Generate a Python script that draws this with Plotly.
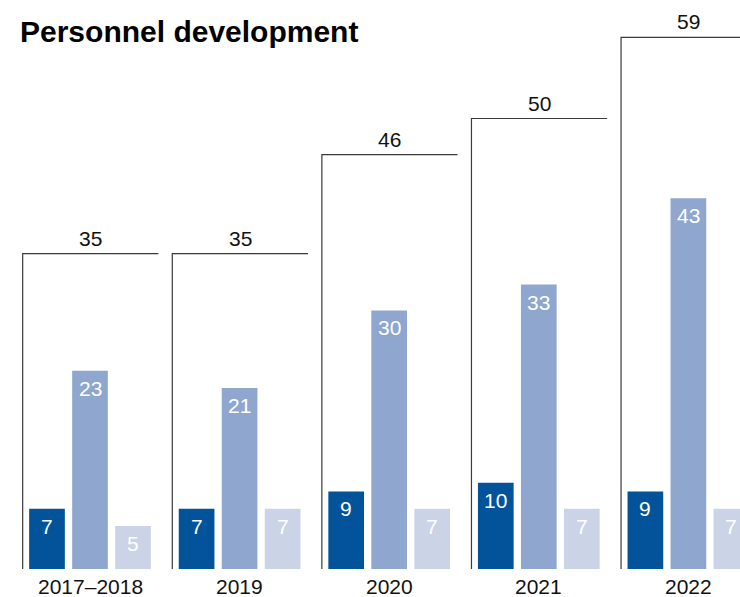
import plotly.graph_objects as go

# Personnel development by period
periods = ["2017–2018", "2019", "2020", "2021", "2022"]
series_a = [7, 7, 9, 10, 9]        # dark blue
series_b = [23, 21, 30, 33, 43]    # medium blue
series_c = [5, 7, 7, 7, 7]         # light blue
totals = [35, 35, 46, 50, 59]

colors = ["#03539a", "#8fa7cf", "#cbd3e7"]
FONT = "Liberation Sans"

pos = list(range(len(periods)))

fig = go.Figure()

for vals, col in zip([series_a, series_b, series_c], colors):
    fig.add_trace(go.Bar(
        x=pos, y=vals,
        marker=dict(color=col, line=dict(width=0)),
        hoverinfo="skip",
        showlegend=False,
    ))

# Value labels placed just inside the top of each bar
offsets = [-0.2875, 0.0, 0.2875]
for vals, off in zip([series_a, series_b, series_c], offsets):
    for p, v in zip(pos, vals):
        fig.add_annotation(
            x=p + off, y=v, xref="x", yref="y",
            text=str(v), showarrow=False,
            xanchor="center", yanchor="top", yshift=-4,
            font=dict(family=FONT, size=21, color="white"),
        )

# Bracket around each period showing the total
for p, t in zip(pos, totals):
    fig.add_trace(go.Scatter(
        x=[p - 0.45, p - 0.45, p + 0.457],
        y=[0, t, t],
        mode="lines",
        line=dict(color="#3a3a3a", width=1.2),
        yaxis="y2",
        hoverinfo="skip",
        showlegend=False,
    ))
    fig.add_annotation(
        x=p + 0.004, y=t, xref="x", yref="y2",
        text=str(t), showarrow=False,
        xanchor="center", yanchor="bottom", yshift=2,
        font=dict(family=FONT, size=21, color="#111111"),
    )

# Period labels under each group
for p, lab in zip(pos, periods):
    fig.add_annotation(
        x=p, y=0, xref="x", yref="paper",
        text=lab, showarrow=False,
        xanchor="center", yanchor="middle", yshift=-17,
        font=dict(family=FONT, size=21, color="#111111"),
    )

fig.update_layout(
    width=740, height=597,
    margin=dict(l=0, r=0, t=20, b=28),
    paper_bgcolor="white", plot_bgcolor="white",
    barmode="group", bargap=0.1375, bargroupgap=0.17,
    title=dict(
        text="<b>Personnel development</b>",
        font=dict(family=FONT, size=30, color="black"),
        x=20 / 740, xref="container", xanchor="left",
        y=1 - 31 / 597, yref="container", yanchor="middle",
    ),
    xaxis=dict(range=[-0.6016, 4.345], showgrid=False, zeroline=False,
               showline=False, showticklabels=False, fixedrange=True),
    yaxis=dict(range=[0, 549 / 8.62], showgrid=False, zeroline=False,
               showline=False, showticklabels=False, fixedrange=True),
    yaxis2=dict(range=[0, 549 / 9.01], overlaying="y", showgrid=False,
                zeroline=False, showline=False, showticklabels=False,
                fixedrange=True),
)

fig.write_html("out.html")
